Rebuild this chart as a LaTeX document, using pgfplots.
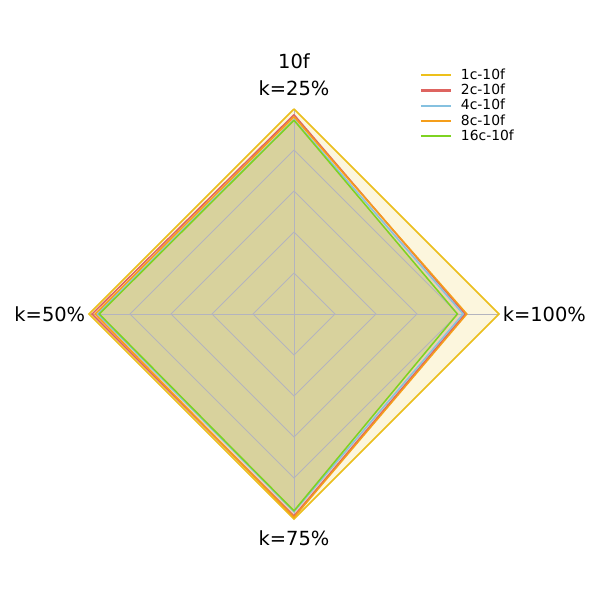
\documentclass[border=0pt]{standalone}
\usepackage{pgfplots}
\pgfplotsset{compat=1.18}
\usepackage{fontspec}
\setmainfont{DejaVu Sans}
\definecolor{c1}{HTML}{EDC01A}
\definecolor{c2}{HTML}{DE6460}
\definecolor{c4}{HTML}{85C1E0}
\definecolor{c8}{HTML}{F59E1A}
\definecolor{c16}{HTML}{7ED321}
\definecolor{gridc}{HTML}{B4B4BE}
\begin{document}
\begin{tikzpicture}
\begin{axis}[
  x=147.6bp, y=147.6bp,
  xmin=-1.4341, xmax=1.4927, ymin=-1.3951, ymax=1.5317,
  hide axis, clip=false,
  legend cell align=left,
  legend style={at={(rel axis cs:0.697,0.8925)}, anchor=north west, draw=none, fill=none,
    font=\fontsize{10bp}{12bp}\selectfont, row sep=-2.1bp, inner sep=1bp,
    nodes={inner xsep=6.5bp}},
  legend image code/.code={\draw[#1] (0bp,0bp) -- (21.6bp,0bp);},
]
\path (rel axis cs:0,0) rectangle (rel axis cs:1,1);
\addplot[gridc, line width=0.7pt, forget plot] coordinates {(0,1.0) (1.0,0) (0,-1.0) (-1.0,0) (0,1.0)};
% series: (0,k25) (k100,0) (0,-k75) (-k50,0)
\addplot[draw=none, fill=c1, fill opacity=0.15, forget plot] coordinates {(0,1.000) (1.000,0) (0,-1.000) (-1.000,0) (0,1.000)};
\addplot[draw=none, fill=c2, fill opacity=0.15, forget plot] coordinates {(0,0.972) (0.835,0) (0,-0.985) (-0.985,0) (0,0.972)};
\addplot[draw=none, fill=c4, fill opacity=0.15, forget plot] coordinates {(0,0.948) (0.825,0) (0,-0.965) (-0.958,0) (0,0.948)};
\addplot[draw=none, fill=c8, fill opacity=0.15, forget plot] coordinates {(0,0.962) (0.843,0) (0,-0.992) (-0.970,0) (0,0.962)};
\addplot[draw=none, fill=c16, fill opacity=0.15, forget plot] coordinates {(0,0.945) (0.797,0) (0,-0.960) (-0.950,0) (0,0.945)};
% grid on top of fills
\addplot[gridc, line width=0.7pt, forget plot] coordinates {(0,0.2) (0.2,0) (0,-0.2) (-0.2,0) (0,0.2)};
\addplot[gridc, line width=0.7pt, forget plot] coordinates {(0,0.4) (0.4,0) (0,-0.4) (-0.4,0) (0,0.4)};
\addplot[gridc, line width=0.7pt, forget plot] coordinates {(0,0.6) (0.6,0) (0,-0.6) (-0.6,0) (0,0.6)};
\addplot[gridc, line width=0.7pt, forget plot] coordinates {(0,0.8) (0.8,0) (0,-0.8) (-0.8,0) (0,0.8)};
\addplot[gridc, line width=0.7pt, forget plot] coordinates {(0,-1) (0,1)};
\addplot[gridc, line width=0.7pt, forget plot] coordinates {(-1,0) (1,0)};
% outlines
\addplot[draw=c1, line width=1.1pt, forget plot] coordinates {(0,1.000) (1.000,0) (0,-1.000) (-1.000,0) (0,1.000)};
\addplot[draw=c2, line width=1.1pt, forget plot] coordinates {(0,0.972) (0.835,0) (0,-0.985) (-0.985,0) (0,0.972)};
\addplot[draw=c4, line width=1.1pt, forget plot] coordinates {(0,0.948) (0.825,0) (0,-0.965) (-0.958,0) (0,0.948)};
\addplot[draw=c8, line width=1.1pt, forget plot] coordinates {(0,0.962) (0.843,0) (0,-0.992) (-0.970,0) (0,0.962)};
\addplot[draw=c16, line width=1.1pt, forget plot] coordinates {(0,0.945) (0.797,0) (0,-0.960) (-0.950,0) (0,0.945)};
\addlegendimage{draw=c1, line width=1.5pt}
\addlegendentry{1c-10f}
\addlegendimage{draw=c2, line width=1.5pt}
\addlegendentry{2c-10f}
\addlegendimage{draw=c4, line width=1.5pt}
\addlegendentry{4c-10f}
\addlegendimage{draw=c8, line width=1.5pt}
\addlegendentry{8c-10f}
\addlegendimage{draw=c16, line width=1.5pt}
\addlegendentry{16c-10f}
% labels
\node[font=\fontsize{14bp}{16bp}\selectfont] at (axis cs:0,1.102) {k=25\%};
\node[font=\fontsize{14bp}{16bp}\selectfont, anchor=west, inner sep=0pt] at (axis cs:1.017,0) {k=100\%};
\node[font=\fontsize{14bp}{16bp}\selectfont] at (axis cs:0,-1.093) {k=75\%};
\node[font=\fontsize{14bp}{16bp}\selectfont, anchor=east, inner sep=0pt] at (axis cs:-1.017,0) {k=50\%};
\node[font=\fontsize{14bp}{16bp}\selectfont] at (axis cs:0,1.234) {10f};
\end{axis}
\end{tikzpicture}
\end{document}
